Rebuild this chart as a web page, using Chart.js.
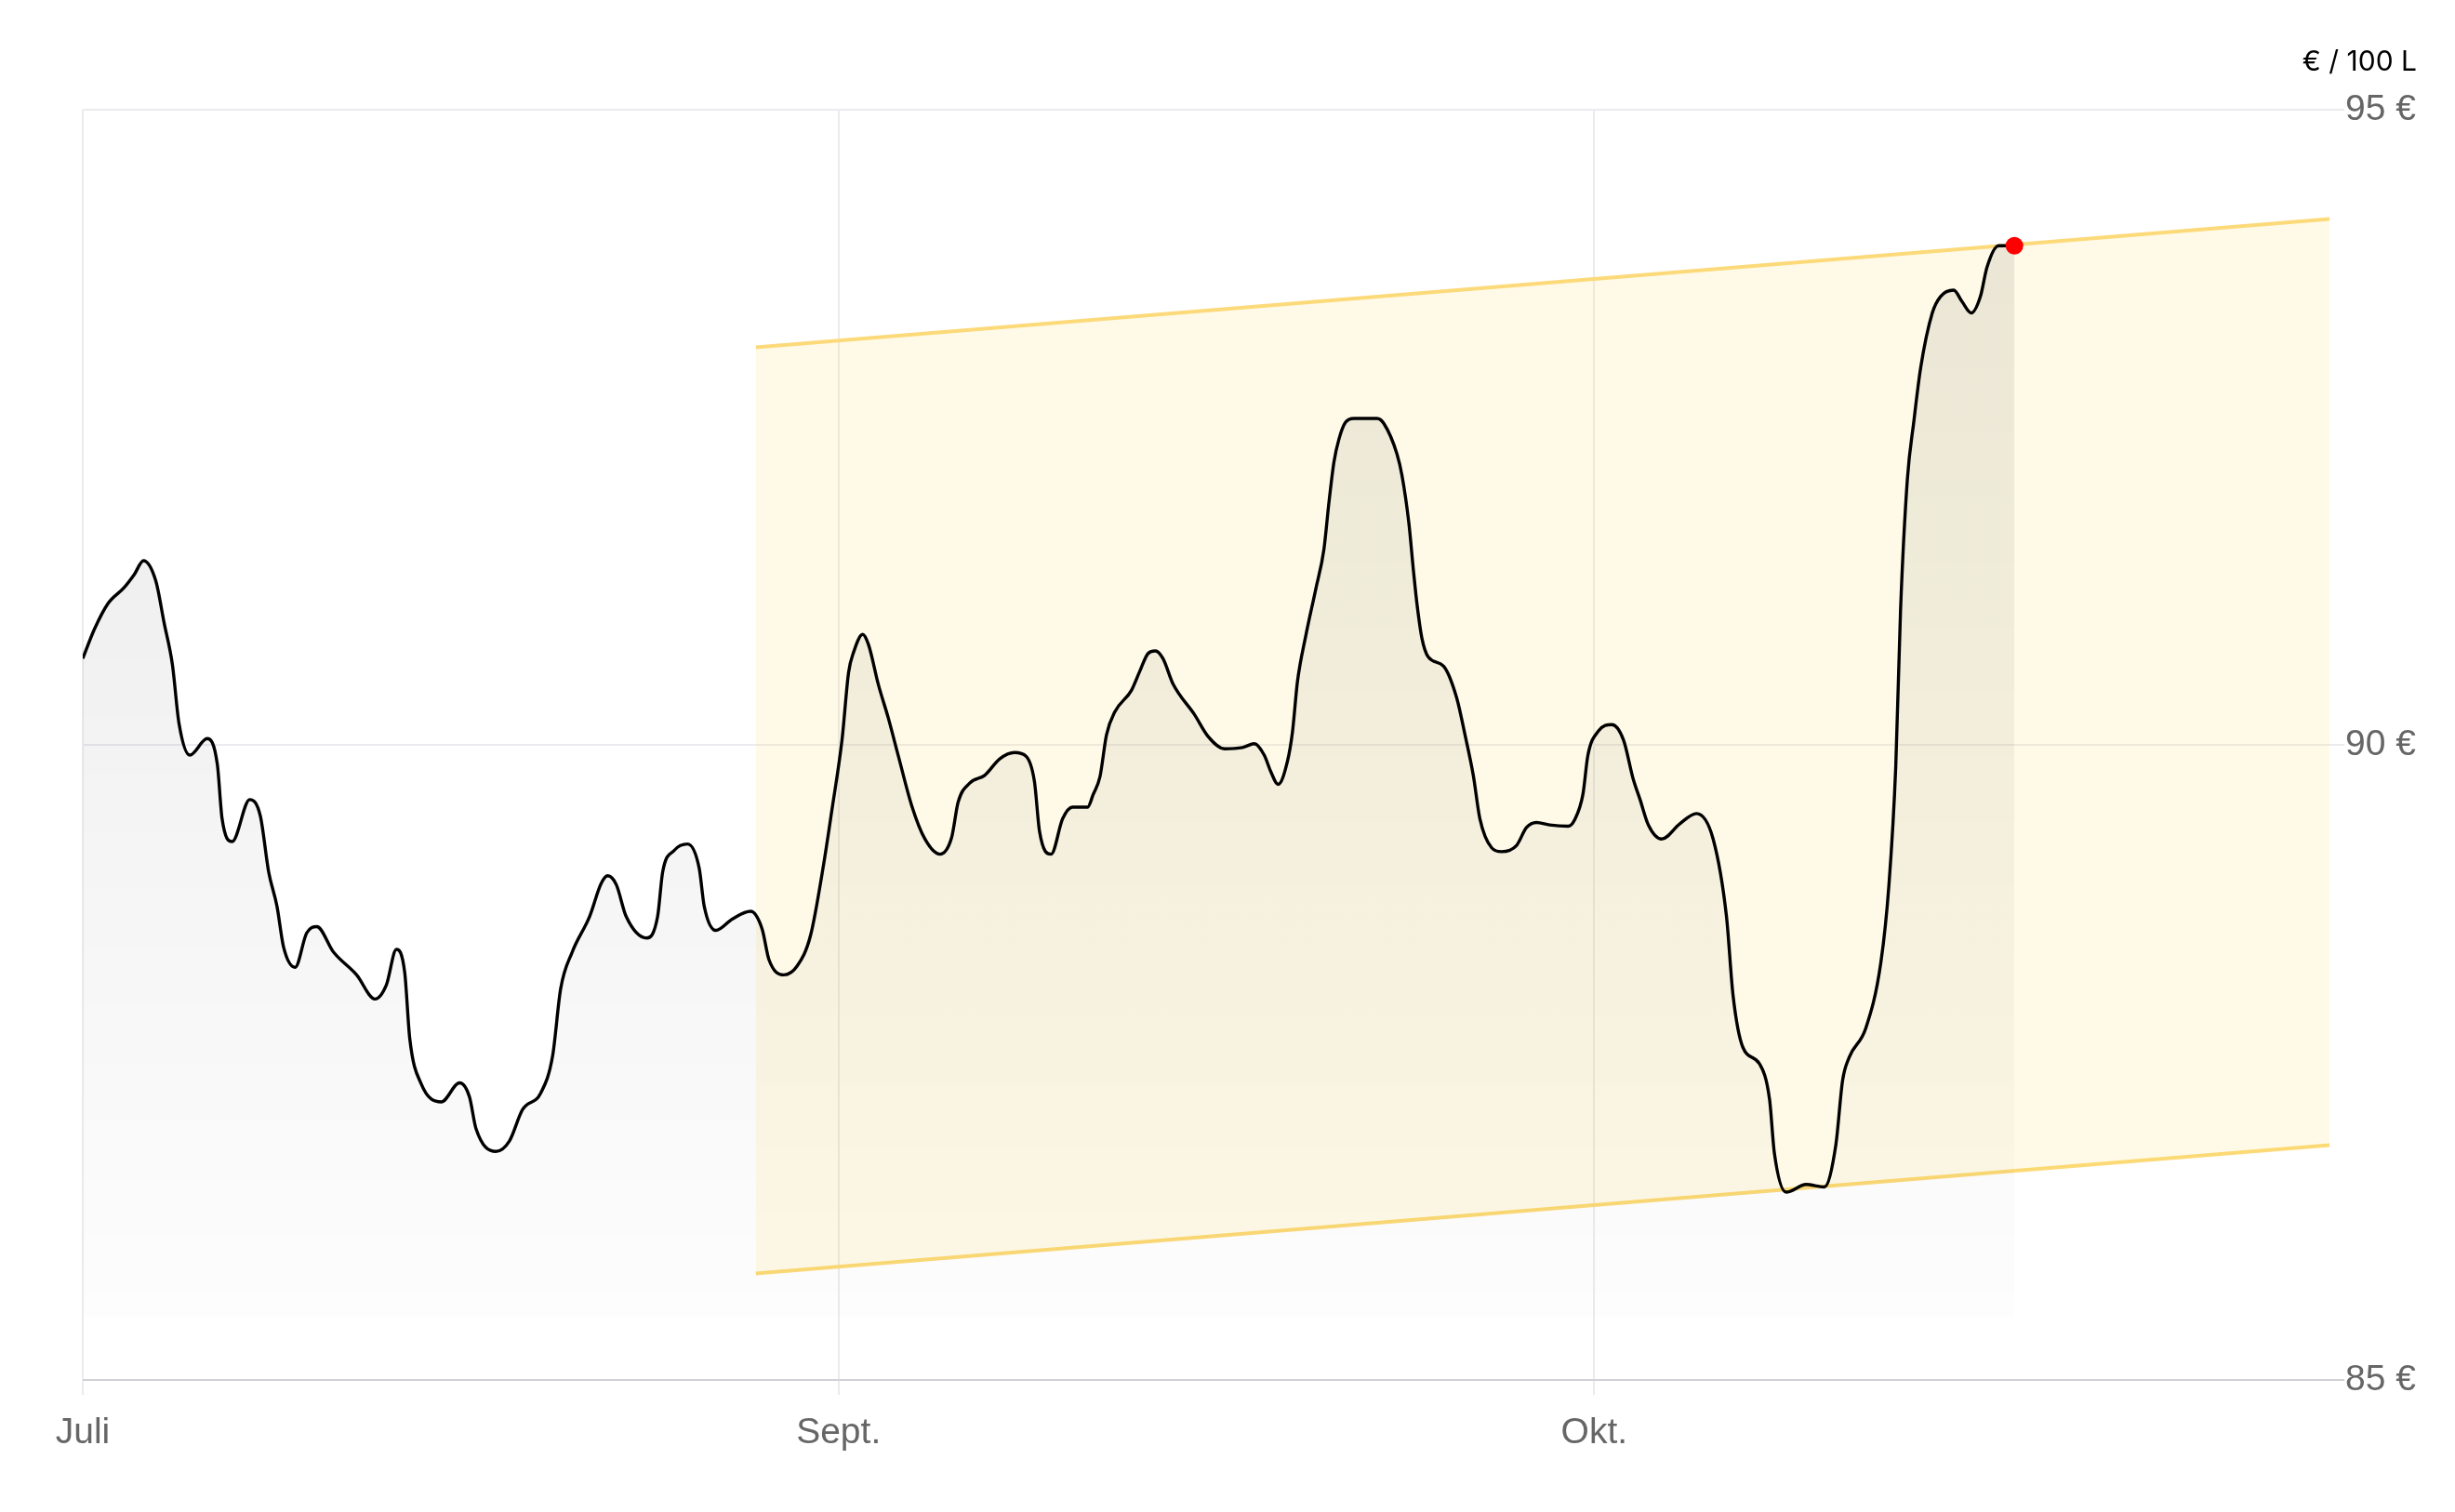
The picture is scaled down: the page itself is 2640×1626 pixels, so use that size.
<!DOCTYPE html>
<html lang="de">
<head>
<meta charset="utf-8">
<title>Preis</title>
<script src="https://cdn.jsdelivr.net/npm/chart.js@4"></script>
<style>
  html, body { margin: 0; padding: 0; background: #fff; }
  #wrap { width: 2640px; height: 1626px; position: relative; }
</style>
</head>
<body>
<div id="wrap"><canvas id="priceChart"></canvas></div>
<script>
// x = days counted from the "Juli" tick
const days = [
  0.00, 0.46, 0.99, 1.65, 2.04, 2.41, 2.90, 3.23, 3.56, 3.82,
  4.25, 4.94, 5.34, 5.53, 5.93, 6.63, 7.05, 7.38, 7.71, 7.97,
  8.43, 8.89, 9.29, 9.95, 10.87, 11.60, 12.05, 12.45, 12.78, 12.98,
  13.44, 14.23, 14.96, 15.35, 15.61, 16.40, 16.93, 17.46, 18.18, 18.65,
  18.97, 19.43, 20.12, 20.58, 20.84, 21.18, 21.57, 22.39, 22.82, 23.02,
  23.48, 24.01, 24.47, 24.67, 25.13, 25.79, 26.51, 26.97, 27.24, 27.83,
  28.36, 28.89, 29.41, 29.74, 30.14, 30.40, 30.60, 30.96, 31.19, 31.59,
  31.98, 32.38, 32.91, 33.43, 34.03, 34.49, 34.75, 35.21, 35.80, 36.40,
  36.99, 37.45, 37.78, 37.98, 38.44, 38.90, 39.29, 39.89, 40.11, 40.38,
  40.64, 40.97, 41.63, 41.96, 42.29, 42.58, 42.88, 43.28, 44.13, 44.66,
  45.32, 46.04, 46.51, 46.90, 47.16, 47.45, 47.82, 48.02, 48.22, 48.55,
  48.95, 49.27, 49.47, 49.67, 49.87, 50.13, 50.46, 51.38, 51.65, 52.17,
  52.37, 52.64, 52.83, 52.97, 53.16, 53.42, 54.02, 54.54, 54.87, 55.20,
  55.46, 55.93, 56.32, 56.92, 57.31, 57.71, 58.23, 58.96, 59.22, 59.55,
  59.75, 60.17, 60.70, 61.16, 61.55, 61.82, 62.15, 62.68, 63.40, 64.06,
  64.72, 65.25, 65.51, 65.90, 66.56, 66.96, 67.15, 67.62, 68.41, 69.13,
  69.59, 69.86, 70.12, 70.78, 71.38, 71.70, 71.97, 72.16, 72.43, 72.69,
  72.96, 73.42, 73.75, 74.27, 74.60, 74.97, 75.33, 75.59, 76.05, 76.68
];
const prices = [
  90.68, 90.91, 91.11, 91.24, 91.34, 91.45, 91.29, 90.96, 90.63, 90.17,
  89.92, 90.05, 89.85, 89.42, 89.24, 89.57, 89.44, 89.00, 88.73, 88.41,
  88.25, 88.52, 88.57, 88.37, 88.19, 88.00, 88.11, 88.39, 88.21, 87.69,
  87.33, 87.19, 87.34, 87.23, 86.98, 86.80, 86.88, 87.13, 87.26, 87.55,
  88.08, 88.37, 88.65, 88.91, 88.97, 88.90, 88.65, 88.48, 88.65, 89.00,
  89.17, 89.22, 89.03, 88.73, 88.54, 88.63, 88.69, 88.55, 88.31, 88.19,
  88.26, 88.50, 89.06, 89.49, 90.04, 90.57, 90.73, 90.87, 90.79, 90.47,
  90.21, 89.91, 89.52, 89.26, 89.14, 89.27, 89.55, 89.70, 89.76, 89.89,
  89.94, 89.91, 89.71, 89.32, 89.14, 89.42, 89.51, 89.51, 89.61, 89.75,
  90.08, 90.26, 90.43, 90.58, 90.72, 90.74, 90.68, 90.48, 90.24, 90.07,
  89.97, 89.98, 90.01, 89.92, 89.79, 89.69, 89.87, 90.10, 90.50, 90.86,
  91.23, 91.54, 91.91, 92.23, 92.41, 92.54, 92.57, 92.57, 92.53, 92.29,
  92.12, 91.75, 91.36, 91.10, 90.84, 90.69, 90.62, 90.37, 90.08, 89.76,
  89.42, 89.19, 89.16, 89.21, 89.35, 89.39, 89.37, 89.36, 89.41, 89.61,
  89.92, 90.11, 90.16, 90.04, 89.73, 89.57, 89.37, 89.26, 89.38, 89.46,
  89.26, 88.65, 88.03, 87.62, 87.49, 87.21, 86.79, 86.48, 86.54, 86.52,
  86.85, 87.36, 87.54, 87.77, 88.29, 88.90, 89.83, 91.06, 92.09, 92.55,
  92.97, 93.40, 93.53, 93.58, 93.49, 93.40, 93.53, 93.76, 93.93, 93.93
];

// price corridor
const bandDays = [26.72, 89.19];
const bandUpper = [93.13, 94.14];
const bandLower = [85.84, 86.85];

const tickDays = [0, 30, 60];
const tickLabels = ['Juli', 'Sept.', 'Okt.'];
const yTicks = [85, 90, 95];
const fillBase = 85.5;

const pricePoints = days.map((d, i) => ({ x: d, y: prices[i] }));
const lastPoint = pricePoints[pricePoints.length - 1];
const upperPoints = bandDays.map((d, i) => ({ x: d, y: bandUpper[i] }));
const lowerPoints = bandDays.map((d, i) => ({ x: d, y: bandLower[i] }));

const bandLine = 'rgb(252, 218, 122)';
const tickFont = { family: '"Liberation Sans", Arial, sans-serif', size: 39 };

function priceFill(context) {
  const area = context.chart.chartArea;
  if (!area) return 'rgba(0,0,0,0.04)';
  const g = context.chart.ctx.createLinearGradient(0, area.top, 0, area.bottom);
  g.addColorStop(0, 'rgba(0,0,0,0.09)');
  g.addColorStop(1, 'rgba(0,0,0,0.005)');
  return g;
}

const ctx = document.getElementById('priceChart');

new Chart(ctx, {
  type: 'line',
  data: {
    datasets: [
      {
        label: 'Preis',
        data: pricePoints,
        borderColor: '#000',
        borderWidth: 3.4,
        pointRadius: 0,
        cubicInterpolationMode: 'monotone',
        fill: { value: fillBase },
        backgroundColor: priceFill,
        order: 1
      },
      {
        label: 'Aktuell',
        data: [lastPoint],
        showLine: false,
        pointRadius: 9.5,
        pointBackgroundColor: '#ff0000',
        pointBorderWidth: 0,
        order: 0
      },
      {
        label: 'Korridor oben',
        data: upperPoints,
        borderColor: bandLine,
        borderWidth: 4,
        pointRadius: 0,
        fill: '+1',
        backgroundColor: 'rgba(255, 205, 40, 0.11)',
        order: 2
      },
      {
        label: 'Korridor unten',
        data: lowerPoints,
        borderColor: bandLine,
        borderWidth: 4,
        pointRadius: 0,
        fill: false,
        order: 3
      }
    ]
  },
  options: {
    responsive: true,
    maintainAspectRatio: false,
    animation: false,
    layout: { padding: { left: 89, right: 41, top: 0, bottom: 43 } },
    plugins: {
      legend: { display: false },
      tooltip: { enabled: false },
      title: {
        display: true,
        text: '€ / 100 L',
        align: 'end',
        color: '#000',
        font: { family: 'Inter, "Noto Sans", sans-serif', size: 30, weight: 'normal' },
        padding: { top: 49, bottom: 33 }
      }
    },
    scales: {
      x: {
        type: 'linear',
        min: 0,
        max: bandDays[1],
        afterBuildTicks: (s) => { s.ticks = tickDays.map(v => ({ value: v })); },
        afterFit: (s) => { s.paddingLeft = 0; s.paddingRight = 0; },
        ticks: {
          callback: (v, i) => tickLabels[i],
          color: '#666',
          font: tickFont,
          padding: 18,
          maxRotation: 0,
          autoSkip: false
        },
        grid: { color: '#ebebf0', lineWidth: 2, tickLength: 16 },
        border: { display: false }
      },
      y: {
        position: 'right',
        min: 85,
        max: 95,
        afterBuildTicks: (s) => { s.ticks = yTicks.map(v => ({ value: v })); },
        afterFit: (s) => { s.paddingTop = 0; s.paddingBottom = 0; },
        ticks: {
          callback: (v) => v + ' €',
          color: '#666',
          font: tickFont,
          padding: 1
        },
        grid: {
          color: (c) => (c.tick && c.tick.value === 85 ? '#d1d1d6' : '#ebebf0'),
          lineWidth: 2,
          tickLength: 16
        },
        border: { display: false }
      }
    }
  }
});
</script>
</body>
</html>
